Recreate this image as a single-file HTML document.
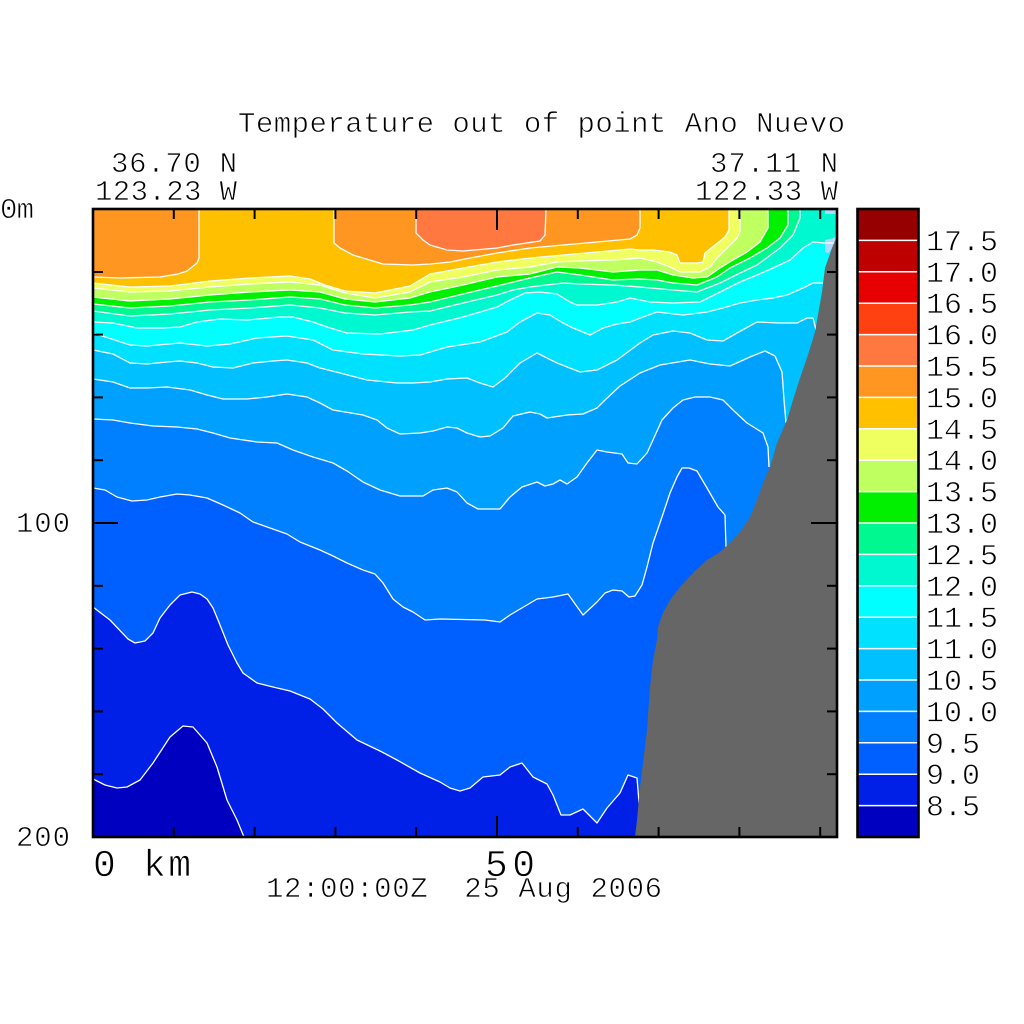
<!DOCTYPE html>
<html>
<head>
<meta charset="utf-8">
<style>
html,body{margin:0;padding:0;background:#fff;}
svg{display:block;}
text{font-family:"Liberation Mono","DejaVu Sans Mono",monospace;fill:#000;stroke:#fff;stroke-width:0.7px;paint-order:fill;}
</style>
</head>
<body>
<svg width="1024" height="1024" viewBox="0 0 1024 1024" xmlns="http://www.w3.org/2000/svg">
<defs>
<clipPath id="plot"><rect x="93" y="209" width="744" height="628"/></clipPath>
</defs>
<rect x="0" y="0" width="1024" height="1024" fill="#fff"/>

<g clip-path="url(#plot)">
<rect x="93" y="209" width="744" height="628" fill="#0020E8"/>
<polygon fill="#0000C0" points="93,779 105,785 117,788 127,787 140,780 153,763 170,737 183,726 193,727 207,743 217,767 227,800 237,820 244,837 93,837"/>
<polygon fill="#0060FF" points="93,607 110,620 128,639 135,643 145,641 153,633 160,618 170,605 180,595 192,592 200,594 207,599 213,608 218,620 228,645 237,663 243,673 257,683 273,687 290,691 310,699 323,709 337,723 357,740 380,751 397,760 420,773 440,782 450,788 460,791 470,788 483,777 500,775 510,767 522,763 533,777 547,784 553,795 561,815 570,815 583,809 597,823 607,808 620,793 628,775 637,778 639,802 641,837 837,837 837,209 93,209"/>
<polygon fill="#0080FF" points="93,488 105,490 117,497 132,501 147,500 160,497 177,494 190,495 207,498 223,505 240,513 253,522 270,528 287,534 300,542 320,550 333,556 347,563 363,570 375,574 383,583 393,599 403,607 413,612 425,620 440,619 485,620 500,622 510,615 537,599 553,597 568,594 583,615 597,602 605,593 613,590 622,591 629,597 635,596 642,585 647,567 653,543 662,517 670,493 677,477 682,468 689,468 697,471 707,488 718,507 725,515 726,547 837,547 837,209 93,209"/>
<polygon fill="#00A0FF" points="93,419 113,420 130,423 153,426 177,427 197,429 213,433 230,438 257,442 277,443 293,450 313,457 333,463 347,471 363,482 380,490 400,496 423,496 433,490 447,488 457,492 467,503 478,509 500,509 510,497 522,487 537,482 545,486 553,484 560,480 567,484 577,477 587,463 597,450 607,452 622,454 628,463 637,464 647,453 653,440 662,420 673,408 683,400 695,397 710,397 723,400 733,410 747,423 763,433 768,447 769,467 837,467 837,209 93,209"/>
<polygon fill="#00C0FF" points="93,379 113,382 130,388 147,388 167,387 190,390 207,395 223,399 247,399 267,397 287,394 307,397 320,403 333,410 363,415 377,420 387,428 400,434 420,433 433,431 447,427 457,428 467,433 480,437 490,436 503,428 513,416 530,412 540,414 547,418 567,415 583,414 597,408 605,400 620,386 640,373 660,365 690,360 710,364 730,366 750,357 765,351 775,356 782,372 784,400 786,423 837,423 837,209 93,209"/>
<polygon fill="#00E0FF" points="93,350 113,354 130,363 147,364 167,362 180,361 197,363 213,367 233,368 253,363 273,361 287,360 307,363 320,368 340,373 367,380 397,383 413,383 430,382 447,379 467,378 480,383 493,387 505,378 520,363 537,353 557,363 580,372 597,370 617,360 640,343 653,335 673,331 690,333 707,340 723,341 737,333 757,322 780,323 797,323 807,318 813,318 816,330 837,330 837,209 93,209"/>
<polygon fill="#00FFFF" points="93,333 130,345 147,346 180,343 207,346 230,344 257,338 287,336 313,340 333,350 363,354 400,356 420,355 447,347 480,342 507,332 520,322 537,313 550,315 563,323 573,328 590,335 603,328 617,324 630,322 643,317 657,312 683,315 707,312 723,308 740,303 757,300 773,298 787,295 803,288 813,283 823,283 837,283 837,209 93,209"/>
<polygon fill="#00F8D0" points="93,322 113,323 137,328 163,328 180,327 197,322 220,319 247,320 280,317 293,317 313,322 327,327 347,333 380,334 413,330 430,325 463,317 480,312 497,307 510,300 525,293 540,292 557,294 570,302 577,305 597,305 617,302 630,298 650,302 673,303 700,302 720,292 740,282 757,275 773,268 790,260 803,248 813,242 825,243 834,243 837,243 837,209 93,209"/>
<polygon fill="#00F890" points="93,311 130,316 170,314 210,310 250,308 290,305 320,308 345,313 375,315 410,312 430,311 463,303 497,295 513,290 530,287 563,283 580,284 613,285 640,287 673,290 697,292 720,283 740,273 757,265 780,248 793,235 800,218 800,209 93,209"/>
<polygon fill="#00F000" points="93,304 130,308 170,306 210,302 250,300 290,297 320,299 345,305 375,308 410,305 430,302 463,294 497,286 530,278 557,272 580,275 613,280 640,279 657,280 673,283 697,285 717,277 730,268 750,258 767,248 780,238 788,225 788,209 93,209"/>
<polygon fill="#C0FF60" points="93,297 130,301 170,299 210,295 250,292 290,290 320,292 345,299 375,302 410,298 430,292 463,285 497,277 530,274 557,267 580,268 613,272 640,270 657,270 673,275 693,278 707,277 720,268 733,260 747,252 760,242 768,228 768,209 93,209"/>
<polygon fill="#F0FF60" points="93,288 130,292 170,291 210,287 250,284 290,282 320,285 345,293 375,298 410,292 430,282 463,277 497,270 530,267 557,262 580,261 613,260 640,258 657,262 670,267 680,272 700,272 710,267 717,258 727,248 737,238 740,232 740,209 93,209"/>
<polygon fill="#FFC000" points="93,283 130,287 170,286 210,281 250,278 290,276 310,279 325,285 345,291 375,293 410,286 430,274 463,268 497,262 530,258 563,255 597,252 630,249 640,250 653,250 670,252 677,255 680,263 697,263 703,262 705,253 715,245 725,237 729,230 729,209 93,209"/>
<polygon fill="#FF9622" points="93,209 199,209 199,258 197,263 187,271 178,274 160,277 120,278 93,277"/>
<polygon fill="#FF9622" points="334,209 334,243 340,248 353,255 373,261 383,264 413,265 430,264 450,262 470,258 497,253 530,248 563,245 597,242 630,239 637,235 640,228 640,209"/>
<polygon fill="#FF7840" points="416,209 416,233 423,240 430,245 447,250 463,251 497,248 513,245 540,241 545,235 546,209"/>
<polygon fill="#B0D8FF" points="825,209 837,209 837,214 825,214"/>
<polygon fill="#B0D8FF" points="825,240 834,238 837,236 837,241 832,248 829,253 825,252"/>

<g fill="none" stroke="#fff" stroke-width="1.3" stroke-linejoin="round">
<polyline points="93,779 105,785 117,788 127,787 140,780 153,763 170,737 183,726 193,727 207,743 217,767 227,800 237,820 244,837"/>
<polyline points="93,607 110,620 128,639 135,643 145,641 153,633 160,618 170,605 180,595 192,592 200,594 207,599 213,608 218,620 228,645 237,663 243,673 257,683 273,687 290,691 310,699 323,709 337,723 357,740 380,751 397,760 420,773 440,782 450,788 460,791 470,788 483,777 500,775 510,767 522,763 533,777 547,784 553,795 561,815 570,815 583,809 597,823 607,808 620,793 628,775 637,778 639,802 641,837"/>
<polyline points="93,488 105,490 117,497 132,501 147,500 160,497 177,494 190,495 207,498 223,505 240,513 253,522 270,528 287,534 300,542 320,550 333,556 347,563 363,570 375,574 383,583 393,599 403,607 413,612 425,620 440,619 485,620 500,622 510,615 537,599 553,597 568,594 583,615 597,602 605,593 613,590 622,591 629,597 635,596 642,585 647,567 653,543 662,517 670,493 677,477 682,468 689,468 697,471 707,488 718,507 725,515 726,547"/>
<polyline points="93,419 113,420 130,423 153,426 177,427 197,429 213,433 230,438 257,442 277,443 293,450 313,457 333,463 347,471 363,482 380,490 400,496 423,496 433,490 447,488 457,492 467,503 478,509 500,509 510,497 522,487 537,482 545,486 553,484 560,480 567,484 577,477 587,463 597,450 607,452 622,454 628,463 637,464 647,453 653,440 662,420 673,408 683,400 695,397 710,397 723,400 733,410 747,423 763,433 768,447 769,467"/>
<polyline points="93,379 113,382 130,388 147,388 167,387 190,390 207,395 223,399 247,399 267,397 287,394 307,397 320,403 333,410 363,415 377,420 387,428 400,434 420,433 433,431 447,427 457,428 467,433 480,437 490,436 503,428 513,416 530,412 540,414 547,418 567,415 583,414 597,408 605,400 620,386 640,373 660,365 690,360 710,364 730,366 750,357 765,351 775,356 782,372 784,400 786,423"/>
<polyline points="93,350 113,354 130,363 147,364 167,362 180,361 197,363 213,367 233,368 253,363 273,361 287,360 307,363 320,368 340,373 367,380 397,383 413,383 430,382 447,379 467,378 480,383 493,387 505,378 520,363 537,353 557,363 580,372 597,370 617,360 640,343 653,335 673,331 690,333 707,340 723,341 737,333 757,322 780,323 797,323 807,318 813,318 816,330"/>
<polyline points="93,333 130,345 147,346 180,343 207,346 230,344 257,338 287,336 313,340 333,350 363,354 400,356 420,355 447,347 480,342 507,332 520,322 537,313 550,315 563,323 573,328 590,335 603,328 617,324 630,322 643,317 657,312 683,315 707,312 723,308 740,303 757,300 773,298 787,295 803,288 813,283 823,283"/>
<polyline points="93,322 113,323 137,328 163,328 180,327 197,322 220,319 247,320 280,317 293,317 313,322 327,327 347,333 380,334 413,330 430,325 463,317 480,312 497,307 510,300 525,293 540,292 557,294 570,302 577,305 597,305 617,302 630,298 650,302 673,303 700,302 720,292 740,282 757,275 773,268 790,260 803,248 813,242 825,243 834,243"/>
<polyline points="93,311 130,316 170,314 210,310 250,308 290,305 320,308 345,313 375,315 410,312 430,311 463,303 497,295 513,290 530,287 563,283 580,284 613,285 640,287 673,290 697,292 720,283 740,273 757,265 780,248 793,235 800,218 800,209"/>
<polyline points="93,304 130,308 170,306 210,302 250,300 290,297 320,299 345,305 375,308 410,305 430,302 463,294 497,286 530,278 557,272 580,275 613,280 640,279 657,280 673,283 697,285 717,277 730,268 750,258 767,248 780,238 788,225 788,209"/>
<polyline points="93,297 130,301 170,299 210,295 250,292 290,290 320,292 345,299 375,302 410,298 430,292 463,285 497,277 530,274 557,267 580,268 613,272 640,270 657,270 673,275 693,278 707,277 720,268 733,260 747,252 760,242 768,228 768,209"/>
<polyline points="93,288 130,292 170,291 210,287 250,284 290,282 320,285 345,293 375,298 410,292 430,282 463,277 497,270 530,267 557,262 580,261 613,260 640,258 657,262 670,267 680,272 700,272 710,267 717,258 727,248 737,238 740,232 740,209"/>
<polyline points="93,283 130,287 170,286 210,281 250,278 290,276 310,279 325,285 345,291 375,293 410,286 430,274 463,268 497,262 530,258 563,255 597,252 630,249 640,250 653,250 670,252 677,255 680,263 697,263 703,262 705,253 715,245 725,237 729,230 729,209"/>
<polyline points="199,209 199,258 197,263 187,271 178,274 160,277 120,278 93,277"/>
<polyline points="334,209 334,243 340,248 353,255 373,261 383,264 413,265 430,264 450,262 470,258 497,253 530,248 563,245 597,242 630,239 637,235 640,228 640,209"/>
<polyline points="416,209 416,233 423,240 430,245 447,250 463,251 497,248 513,245 540,241 545,235 546,209"/>
</g>

<polygon fill="#666666" points="837,236 832,248 825,268 822,292 818,315 815,332 808,355 800,378 793,400 787,420 777,443 770,467 763,483 757,500 750,517 740,532 730,543 720,552 707,560 693,573 680,587 670,600 663,613 658,627 657,640 653,660 650,687 647,730 643,763 640,787 637,820 635,837 837,837"/>
</g>

<g stroke="#000" stroke-width="2">
<line x1="93" y1="272" x2="103" y2="272"/><line x1="93" y1="334.6" x2="103" y2="334.6"/><line x1="93" y1="397.4" x2="103" y2="397.4"/><line x1="93" y1="460.2" x2="103" y2="460.2"/><line x1="93" y1="523" x2="118" y2="523"/><line x1="93" y1="585.8" x2="103" y2="585.8"/><line x1="93" y1="648.6" x2="103" y2="648.6"/><line x1="93" y1="711.4" x2="103" y2="711.4"/><line x1="93" y1="774.2" x2="103" y2="774.2"/>
<line x1="837" y1="272" x2="827" y2="272"/><line x1="837" y1="334.6" x2="827" y2="334.6"/><line x1="837" y1="397.4" x2="827" y2="397.4"/><line x1="837" y1="460.2" x2="827" y2="460.2"/><line x1="837" y1="523" x2="811" y2="523"/><line x1="837" y1="585.8" x2="827" y2="585.8"/><line x1="837" y1="648.6" x2="827" y2="648.6"/><line x1="837" y1="711.4" x2="827" y2="711.4"/><line x1="837" y1="774.2" x2="827" y2="774.2"/>
<line x1="173.8" y1="209" x2="173.8" y2="219"/><line x1="254.6" y1="209" x2="254.6" y2="219"/><line x1="335.4" y1="209" x2="335.4" y2="219"/><line x1="416.2" y1="209" x2="416.2" y2="219"/><line x1="497" y1="209" x2="497" y2="230"/><line x1="577.8" y1="209" x2="577.8" y2="219"/><line x1="658.6" y1="209" x2="658.6" y2="219"/><line x1="739.4" y1="209" x2="739.4" y2="219"/><line x1="820.2" y1="209" x2="820.2" y2="219"/>
<line x1="173.8" y1="837" x2="173.8" y2="827"/><line x1="254.6" y1="837" x2="254.6" y2="827"/><line x1="335.4" y1="837" x2="335.4" y2="827"/><line x1="416.2" y1="837" x2="416.2" y2="827"/><line x1="497" y1="837" x2="497" y2="816"/><line x1="577.8" y1="837" x2="577.8" y2="827"/><line x1="658.6" y1="837" x2="658.6" y2="827"/><line x1="739.4" y1="837" x2="739.4" y2="827"/><line x1="820.2" y1="837" x2="820.2" y2="827"/>
</g>
<rect x="93" y="209" width="744" height="628" fill="none" stroke="#000" stroke-width="2.6"/>

<g>
<rect x="857.5" y="209" width="61" height="31.4" fill="#960000"/>
<rect x="857.5" y="240.4" width="61" height="31.4" fill="#BE0000"/>
<rect x="857.5" y="271.8" width="61" height="31.4" fill="#E60000"/>
<rect x="857.5" y="303.2" width="61" height="31.4" fill="#FF4010"/>
<rect x="857.5" y="334.6" width="61" height="31.4" fill="#FF7840"/>
<rect x="857.5" y="366" width="61" height="31.4" fill="#FF9622"/>
<rect x="857.5" y="397.4" width="61" height="31.4" fill="#FFC000"/>
<rect x="857.5" y="428.8" width="61" height="31.4" fill="#F0FF60"/>
<rect x="857.5" y="460.2" width="61" height="31.4" fill="#C0FF60"/>
<rect x="857.5" y="491.6" width="61" height="31.4" fill="#00F000"/>
<rect x="857.5" y="523" width="61" height="31.4" fill="#00F890"/>
<rect x="857.5" y="554.4" width="61" height="31.4" fill="#00F8D0"/>
<rect x="857.5" y="585.8" width="61" height="31.4" fill="#00FFFF"/>
<rect x="857.5" y="617.2" width="61" height="31.4" fill="#00E0FF"/>
<rect x="857.5" y="648.6" width="61" height="31.4" fill="#00C0FF"/>
<rect x="857.5" y="680" width="61" height="31.4" fill="#00A0FF"/>
<rect x="857.5" y="711.4" width="61" height="31.4" fill="#0080FF"/>
<rect x="857.5" y="742.8" width="61" height="31.4" fill="#0060FF"/>
<rect x="857.5" y="774.2" width="61" height="31.4" fill="#0020E8"/>
<rect x="857.5" y="805.6" width="61" height="31.4" fill="#0000C0"/>
</g>
<g stroke="#fff" stroke-width="1.5">
<line x1="858" y1="240.4" x2="918" y2="240.4"/><line x1="858" y1="271.8" x2="918" y2="271.8"/><line x1="858" y1="303.2" x2="918" y2="303.2"/><line x1="858" y1="334.6" x2="918" y2="334.6"/><line x1="858" y1="366" x2="918" y2="366"/><line x1="858" y1="397.4" x2="918" y2="397.4"/><line x1="858" y1="428.8" x2="918" y2="428.8"/><line x1="858" y1="460.2" x2="918" y2="460.2"/><line x1="858" y1="491.6" x2="918" y2="491.6"/><line x1="858" y1="523" x2="918" y2="523"/><line x1="858" y1="554.4" x2="918" y2="554.4"/><line x1="858" y1="585.8" x2="918" y2="585.8"/><line x1="858" y1="617.2" x2="918" y2="617.2"/><line x1="858" y1="648.6" x2="918" y2="648.6"/><line x1="858" y1="680" x2="918" y2="680"/><line x1="858" y1="711.4" x2="918" y2="711.4"/><line x1="858" y1="742.8" x2="918" y2="742.8"/><line x1="858" y1="774.2" x2="918" y2="774.2"/><line x1="858" y1="805.6" x2="918" y2="805.6"/>
</g>
<rect x="857.5" y="209" width="61" height="628" fill="none" stroke="#000" stroke-width="2.6"/>

<g font-size="30">
<text x="926" y="250.4" textLength="72" lengthAdjust="spacing">17.5</text>
<text x="926" y="281.8" textLength="72" lengthAdjust="spacing">17.0</text>
<text x="926" y="313.2" textLength="72" lengthAdjust="spacing">16.5</text>
<text x="926" y="344.6" textLength="72" lengthAdjust="spacing">16.0</text>
<text x="926" y="376" textLength="72" lengthAdjust="spacing">15.5</text>
<text x="926" y="407.4" textLength="72" lengthAdjust="spacing">15.0</text>
<text x="926" y="438.8" textLength="72" lengthAdjust="spacing">14.5</text>
<text x="926" y="470.2" textLength="72" lengthAdjust="spacing">14.0</text>
<text x="926" y="501.6" textLength="72" lengthAdjust="spacing">13.5</text>
<text x="926" y="533" textLength="72" lengthAdjust="spacing">13.0</text>
<text x="926" y="564.4" textLength="72" lengthAdjust="spacing">12.5</text>
<text x="926" y="595.8" textLength="72" lengthAdjust="spacing">12.0</text>
<text x="926" y="627.2" textLength="72" lengthAdjust="spacing">11.5</text>
<text x="926" y="658.6" textLength="72" lengthAdjust="spacing">11.0</text>
<text x="926" y="690" textLength="72" lengthAdjust="spacing">10.5</text>
<text x="926" y="721.4" textLength="72" lengthAdjust="spacing">10.0</text>
<text x="926" y="752.8" textLength="54" lengthAdjust="spacing">9.5</text>
<text x="926" y="784.2" textLength="54" lengthAdjust="spacing">9.0</text>
<text x="926" y="815.6" textLength="54" lengthAdjust="spacing">8.5</text>
</g>

<g font-size="29">
<text x="238" y="132" textLength="607" lengthAdjust="spacing">Temperature out of point Ano Nuevo</text>
<text x="111" y="172" textLength="126" lengthAdjust="spacing" style="white-space:pre">36.70 N</text>
<text x="95" y="200" textLength="142" lengthAdjust="spacing" style="white-space:pre">123.23 W</text>
<text x="710" y="172" textLength="128" lengthAdjust="spacing" style="white-space:pre">37.11 N</text>
<text x="695" y="200" textLength="143" lengthAdjust="spacing" style="white-space:pre">122.33 W</text>
<text x="0" y="218" textLength="34" lengthAdjust="spacing">0m</text>
<text x="16" y="532" textLength="54" lengthAdjust="spacing">100</text>
<text x="16" y="846" textLength="54" lengthAdjust="spacing">200</text>
<text x="266" y="897" textLength="396" lengthAdjust="spacing" xml:space="preserve" style="white-space:pre">12:00:00Z  25 Aug 2006</text>
</g>
<g font-size="38">
<text x="93" y="876" textLength="98" lengthAdjust="spacing" style="white-space:pre">0 km</text>
<text x="485" y="876" textLength="50" lengthAdjust="spacing">50</text>
</g>
</svg>
</body>
</html>
